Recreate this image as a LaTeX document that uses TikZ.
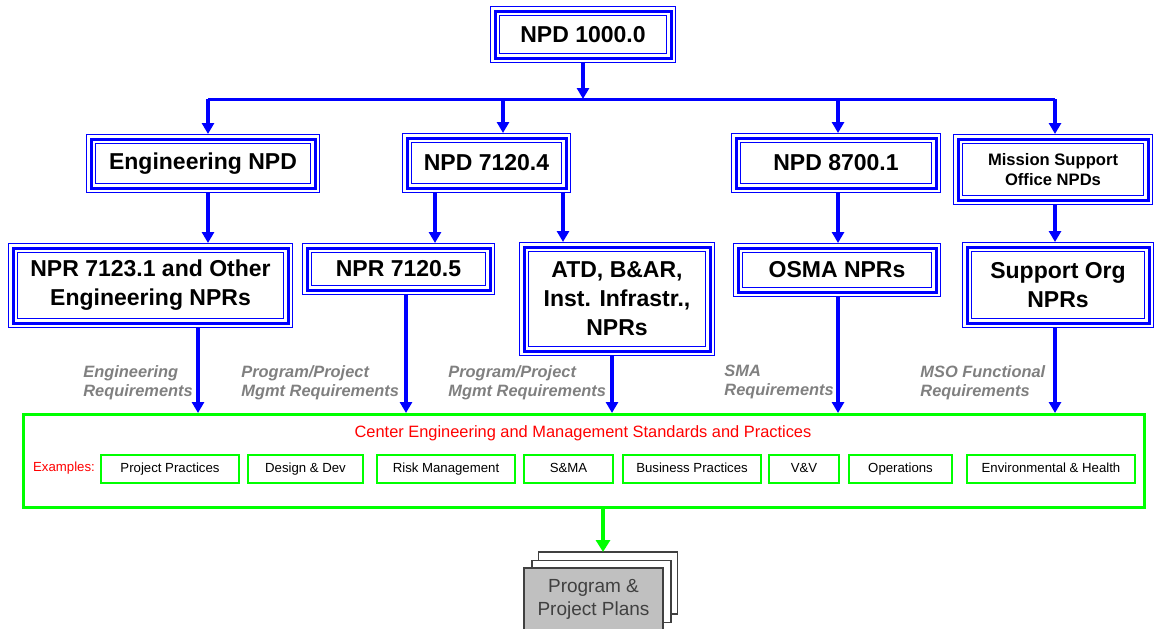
\documentclass[tikz,border=0pt]{standalone}
\usepackage{fontspec}
\setmainfont{Liberation Sans}
\usetikzlibrary{arrows.meta,calc}
\definecolor{lblgray}{RGB}{128,128,128}
\definecolor{docgray}{RGB}{192,192,192}
\definecolor{doctext}{RGB}{64,64,64}
\tikzset{
  npdbox/.style={rectangle,draw=blue,line width=1.5pt,
    preaction={draw=blue,line width=5pt},
    preaction={draw=white,line width=4pt},
    outer sep=2.5pt,inner sep=0pt,align=center,
    font=\fontsize{11.5}{14.5}\selectfont\bfseries},
  arr/.style={draw=blue,line width=1.8pt,-{Triangle[length=5.5pt,width=6pt]}},
  bar/.style={draw=blue,line width=1.5pt},
  req/.style={anchor=north west,inner sep=0pt,align=left,text=lblgray,
    font=\fontsize{8.2}{9.5}\selectfont\bfseries\itshape},
  exbox/.style={rectangle,draw=green,line width=0.8pt,inner sep=0pt,
    text height=5pt,text depth=1.4pt,
    minimum height=14pt,font=\fontsize{6.6}{8}\selectfont},
  docpage/.style={rectangle,draw=black!75,line width=0.6pt,fill=white,
    minimum width=69.5pt,minimum height=31pt},
  garr/.style={draw=green,line width=2pt,-{Triangle[length=6pt,width=7pt]}}
}
\begin{document}
\begin{tikzpicture}[x=0.5pt,y=-0.5pt]
  \useasboundingbox (0,0) rectangle (1154,628);

  % top level
  \node[npdbox,minimum width=88pt,minimum height=23.5pt] (top) at (583,34.5) {NPD 1000.0};

  % second level
  \node[npdbox,minimum width=112pt,minimum height=24.5pt] (eng) at (203,163.5) {Engineering NPD};
  \node[npdbox,minimum width=79.5pt,minimum height=25pt] (npd) at (486.5,163) {NPD 7120.4};
  \node[npdbox,minimum width=100pt,minimum height=25pt] (sma) at (836,163) {NPD 8700.1};
  \node[npdbox,minimum width=95pt,minimum height=30.5pt,
        font=\fontsize{8.3}{10}\selectfont\bfseries] (mso) at (1053,169.5) {Mission Support\\Office NPDs};

  % third level
  \node[npdbox,minimum width=137.5pt,minimum height=37.5pt] (npr1) at (150.5,285.5) {NPR 7123.1 and Other\\Engineering NPRs};
  \node[npdbox,minimum width=91.5pt,minimum height=21pt] (npr2) at (398.5,269) {NPR 7120.5};
  \node[npdbox,minimum width=93pt,minimum height=52pt] (atd) at (617,299) {ATD, B\&AR,\\Inst. Infrastr.,\\NPRs};
  \node[npdbox,minimum width=99pt,minimum height=22pt] (osma) at (837,270) {OSMA NPRs};
  \node[npdbox,minimum width=91pt,minimum height=38pt] (sup) at (1058,285) {Support Org\\NPRs};

  % center standards box
  \node[rectangle,draw=green,line width=1.5pt,minimum width=560.5pt,minimum height=46.5pt] (ctr) at (584,460.5) {};
  \node[text=red,font=\fontsize{8.2}{10}\selectfont] (ctrtitle) at (583,433) {Center Engineering and Management Standards and Practices};
  \node[text=red,font=\fontsize{6.6}{8}\selectfont] (ex) at (64,468) {Examples:};
  \node[exbox,minimum width=69pt] (pp) at (170,469) {Project Practices};
  \node[exbox,minimum width=57.5pt] (dd) at (305.5,469) {Design \& Dev};
  \node[exbox,minimum width=69pt] (rm) at (446,469) {Risk Management};
  \node[exbox,minimum width=44.5pt] (sm) at (568.5,469) {S\&MA};
  \node[exbox,minimum width=69pt] (bp) at (692,469) {Business Practices};
  \node[exbox,minimum width=35pt] (vv) at (804,469) {V\&V};
  \node[exbox,minimum width=51.5pt] (op) at (900.5,469) {Operations};
  \node[exbox,minimum width=84pt] (eh) at (1051,469) {Environmental \& Health};

  % plans stack
  \node[docpage] (back) at (608,583) {};
  \node[docpage] (mid) at (601.5,591.5) {};
  \node[docpage,fill=docgray,text=doctext,font=\fontsize{9.5}{11.5}\selectfont,align=center] (plans) at (593.5,599) {Program \&\\Project Plans};

  % requirement labels
  \node[req] (lbl1) at (83,365) {Engineering\\Requirements};
  \node[req] (lbl2) at (241,365) {Program/Project\\Mgmt Requirements};
  \node[req] (lbl3) at (448,365) {Program/Project\\Mgmt Requirements};
  \node[req] (lbl4) at (724,365) {SMA\\Requirements};
  \node[req] (lbl5) at (920,365) {MSO Functional\\Requirements};

  % connectors
  \coordinate (b1) at (208,99);
  \coordinate (b2) at (503,99);
  \coordinate (b3) at (838,99);
  \coordinate (b4) at (1055,99);
  \coordinate (s1) at (435,200);
  \coordinate (s2) at (563,200);
  \coordinate (g1) at (198,413);
  \coordinate (g2) at (406,413);
  \coordinate (g3) at (612,413);
  \coordinate (g4) at (838,413);
  \coordinate (g5) at (1055,413);
  \coordinate (gp) at (603,552);

  \draw[arr] (top.south) -- (top.south |- b1);
  \draw[bar] (b1) -- (b4);
  \draw[arr] (b1) -- (b1 |- eng.north);
  \draw[arr] (b2) -- (b2 |- npd.north);
  \draw[arr] (b3) -- (b3 |- sma.north);
  \draw[arr] (b4) -- (b4 |- mso.north);

  \draw[arr] (eng.south -| b1) -- (b1 |- npr1.north);
  \draw[arr] (npd.south -| s1) -- (s1 |- npr2.north);
  \draw[arr] (npd.south -| s2) -- (s2 |- atd.north);
  \draw[arr] (sma.south -| b3) -- (b3 |- osma.north);
  \draw[arr] (mso.south -| b4) -- (b4 |- sup.north);

  \draw[arr] (npr1.south -| g1) -- (g1);
  \draw[arr] (npr2.south -| g2) -- (g2);
  \draw[arr] (atd.south -| g3) -- (g3);
  \draw[arr] (osma.south -| g4) -- (g4);
  \draw[arr] (sup.south -| g5) -- (g5);

  \draw[garr] (ctr.south -| gp) -- (gp);
\end{tikzpicture}
\end{document}
